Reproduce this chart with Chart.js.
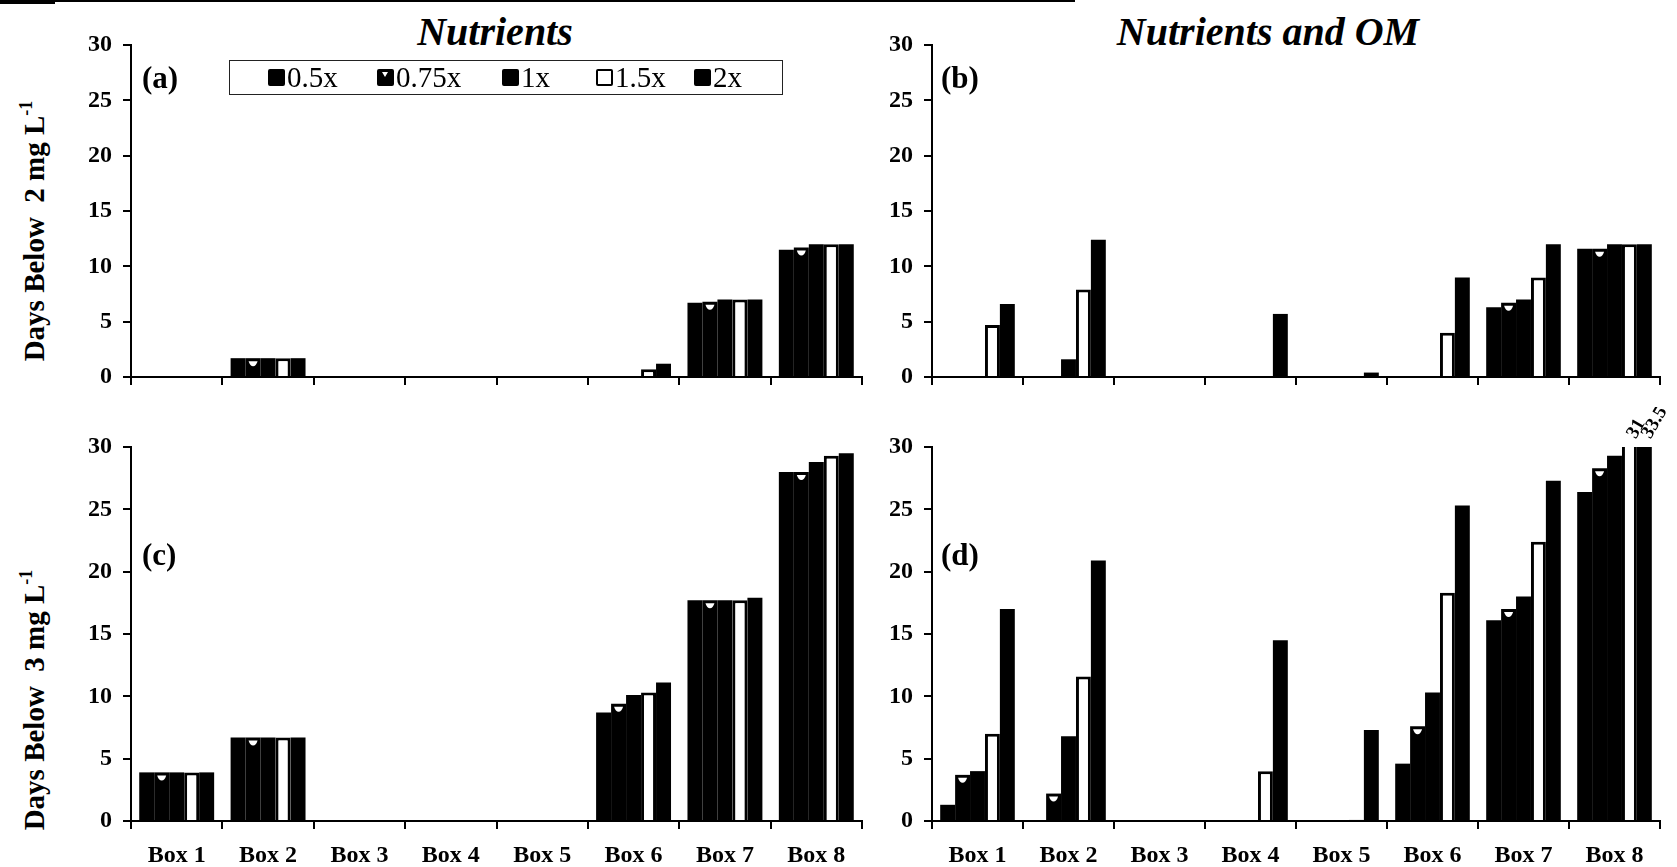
<!DOCTYPE html>
<html>
<head>
<meta charset="utf-8">
<script src="https://cdn.jsdelivr.net/npm/chart.js@4.4.0/dist/chart.umd.min.js"></script>
<style>
  html, body { margin: 0; padding: 0; background: #fff; }
  body { width: 1677px; height: 867px; position: relative; overflow: hidden;
         font-family: "Liberation Serif", "Times New Roman", serif; color: #000; }
  canvas { position: absolute; }
  .rule { position: absolute; background: #000; }
  .title { position: absolute; top: 8px; font-weight: bold; font-style: italic; font-size: 40px;
           transform: translateX(-50%); white-space: nowrap; }
  .ytitle { position: absolute; font-weight: bold; font-size: 29px; white-space: nowrap;
            transform: translate(-50%, -50%) rotate(-90deg); }
  .ytitle sup { font-size: 18px; vertical-align: 12px; }
  .tag { position: absolute; font-weight: bold; font-size: 31px; }
  #legend { position: absolute; left: 229px; top: 60px; width: 552px; height: 33px;
            border: 1px solid #222; background: #fff; }
  .item { position: absolute; top: 0; height: 33px; display: flex; align-items: center;
          font-size: 29px; }
  .swatch { width: 17px; height: 17px; margin-right: 2px; box-sizing: border-box;
            border: 2px solid #000; border-radius: 2px; position: relative; }
</style>
</head>
<body>
<div class="rule" style="left:0;top:0;width:1075px;height:2px"></div>
<div class="rule" style="left:0;top:0;width:55px;height:4px"></div>

<div class="title" style="left:495px">Nutrients</div>
<div class="title" style="left:1268px">Nutrients and OM</div>

<div class="ytitle" style="left:33px;top:231px">Days Below&nbsp;&nbsp;2 mg L<sup>-1</sup></div>
<div class="ytitle" style="left:33px;top:700px">Days Below&nbsp;&nbsp;3 mg L<sup>-1</sup></div>

<canvas id="pa" width="825" height="432" style="left:51px;top:5px"></canvas>
<canvas id="pb" width="822" height="432" style="left:852px;top:5px"></canvas>
<canvas id="pc" width="825" height="474" style="left:51px;top:407px"></canvas>
<canvas id="pd" width="822" height="474" style="left:852px;top:407px"></canvas>

<div class="tag" style="left:142px;top:60px">(a)</div>
<div class="tag" style="left:941px;top:60px">(b)</div>
<div class="tag" style="left:142px;top:537px">(c)</div>
<div class="tag" style="left:941px;top:537px">(d)</div>

<div id="legend"></div>

<script>
// Categories and treatment levels
const boxes = ['Box 1', 'Box 2', 'Box 3', 'Box 4', 'Box 5', 'Box 6', 'Box 7', 'Box 8'];
const doses = ['0.5x', '0.75x', '1x', '1.5x', '2x'];
const yTicks = [0, 5, 10, 15, 20, 25, 30];

// (a) Nutrients, days below 2 mg/L
const nut2_05  = [0, 1.7, 0, 0, 0, 0,   6.7, 11.5];
const nut2_075 = [0, 1.7, 0, 0, 0, 0,   6.8, 11.7];
const nut2_1   = [0, 1.7, 0, 0, 0, 0,   7.0, 12.0];
const nut2_15  = [0, 1.7, 0, 0, 0, 0.7, 7.0, 12.0];
const nut2_2   = [0, 1.7, 0, 0, 0, 1.2, 7.0, 12.0];

// (b) Nutrients and OM, days below 2 mg/L
const om2_05  = [0,   0,    0, 0,   0,   0,   6.3,  11.6];
const om2_075 = [0,   0,    0, 0,   0,   0,   6.7,  11.6];
const om2_1   = [0,   1.6,  0, 0,   0,   0,   7.0,  12.0];
const om2_15  = [4.7, 7.9,  0, 0,   0,   4.0, 9.0,  12.0];
const om2_2   = [6.6, 12.4, 0, 5.7, 0.4, 9.0, 12.0, 12.0];

// (c) Nutrients, days below 3 mg/L
const nut3_05  = [3.9, 6.7, 0, 0, 0, 8.7,  17.7, 28.0];
const nut3_075 = [3.9, 6.7, 0, 0, 0, 9.4,  17.7, 28.0];
const nut3_1   = [3.9, 6.7, 0, 0, 0, 10.1, 17.7, 28.8];
const nut3_15  = [3.9, 6.7, 0, 0, 0, 10.3, 17.7, 29.3];
const nut3_2   = [3.9, 6.7, 0, 0, 0, 11.1, 17.9, 29.5];

// (d) Nutrients and OM, days below 3 mg/L
const om3_05  = [1.3,  0,    0, 0,    0,   4.6,  16.1, 26.4];
const om3_075 = [3.7,  2.2,  0, 0,    0,   7.6,  17.0, 28.3];
const om3_1   = [4.0,  6.8,  0, 0,    0,   10.3, 18.0, 29.3];
const om3_15  = [7.0,  11.6, 0, 4.0,  0.1, 18.3, 22.4, 31];
const om3_2   = [17.0, 20.9, 0, 14.5, 7.3, 25.3, 27.3, 33.5];

const FONT = '"Liberation Serif", "Times New Roman", serif';
const fills = ['#000', '#000', '#000', '#fff', '#000'];
const borders = [0, 0, 0, 3, 0];

// White notch near the top of every 0.75x bar
const notchPlugin = {
  id: 'notch',
  afterDatasetsDraw(chart) {
    const meta = chart.getDatasetMeta(1);
    const ctx = chart.ctx;
    const top0 = chart.chartArea.top;
    meta.data.forEach(bar => {
      if (bar.base - bar.y < 12) return;
      const t = Math.max(bar.y, top0);
      ctx.save();
      ctx.fillStyle = '#fff';
      ctx.beginPath();
      ctx.moveTo(bar.x - 4.5, t + 3);
      ctx.lineTo(bar.x + 4.5, t + 3);
      ctx.quadraticCurveTo(bar.x + 3, t + 8, bar.x, t + 8);
      ctx.quadraticCurveTo(bar.x - 3, t + 8, bar.x - 4.5, t + 3);
      ctx.fill();
      ctx.restore();
    });
  }
};

// Values beyond the axis maximum are written above the clipped bar
const overflowPlugin = {
  id: 'overflowLabels',
  afterDatasetsDraw(chart) {
    const ctx = chart.ctx;
    const max = chart.scales.y.max;
    chart.data.datasets.forEach((ds, i) => {
      chart.getDatasetMeta(i).data.forEach((bar, j) => {
        const v = ds.data[j];
        if (v <= max) return;
        ctx.save();
        ctx.translate(bar.x + 2, chart.chartArea.top - 10);
        ctx.rotate(-Math.PI / 3);
        ctx.font = 'bold 19px ' + FONT;
        ctx.fillStyle = '#000';
        ctx.textAlign = 'left';
        ctx.textBaseline = 'middle';
        ctx.fillText(String(v), 0, 0);
        ctx.restore();
      });
    });
  }
};

function panel(id, series, showLabels) {
  new Chart(document.getElementById(id), {
    type: 'bar',
    data: {
      labels: boxes,
      datasets: series.map((d, i) => ({
        label: doses[i],
        data: d,
        backgroundColor: fills[i],
        borderColor: '#000',
        borderWidth: borders[i],
        barPercentage: 1.0,
        categoryPercentage: 0.82
      }))
    },
    options: {
      responsive: false,
      animation: false,
      devicePixelRatio: 1,
      layout: { padding: { top: 40, right: 14, left: 0, bottom: 0 } },
      plugins: { legend: { display: false }, tooltip: { enabled: false } },
      scales: {
        x: {
          grid: { display: true, drawOnChartArea: false, drawTicks: true, tickLength: 8,
                  color: '#000', lineWidth: 2, offset: true },
          border: { display: true, color: '#000', width: 2 },
          ticks: { display: showLabels, color: '#000', padding: 12,
                   font: { family: FONT, size: 24, weight: 'bold' } },
          afterFit(s) { s.height = 60; }
        },
        y: {
          min: 0, max: 30,
          afterBuildTicks(s) { s.ticks = yTicks.map(v => ({ value: v })); },
          grid: { display: true, drawOnChartArea: false, drawTicks: true, tickLength: 8,
                  color: '#000', lineWidth: 2 },
          border: { display: true, color: '#000', width: 2 },
          ticks: { color: '#000', padding: 11,
                   font: { family: FONT, size: 24, weight: 'bold' } },
          afterFit(s) { s.width = 80; }
        }
      }
    },
    plugins: [notchPlugin, overflowPlugin]
  });
}

panel('pa', [nut2_05, nut2_075, nut2_1, nut2_15, nut2_2], false);
panel('pb', [om2_05, om2_075, om2_1, om2_15, om2_2], false);
panel('pc', [nut3_05, nut3_075, nut3_1, nut3_15, nut3_2], true);
panel('pd', [om3_05, om3_075, om3_1, om3_15, om3_2], true);

// Legend built from the treatment levels
const legendX = [38, 147, 272, 366, 464];
const legend = document.getElementById('legend');
doses.forEach((d, i) => {
  const item = document.createElement('div');
  item.className = 'item';
  item.style.left = legendX[i] + 'px';
  const sw = document.createElement('div');
  sw.className = 'swatch';
  sw.style.background = fills[i];
  if (i === 1) {
    const n = document.createElement('div');
    n.style.cssText = 'position:absolute;left:3px;top:1px;width:0;height:0;' +
      'border-left:3.5px solid transparent;border-right:3.5px solid transparent;border-top:5px solid #fff;';
    sw.appendChild(n);
  }
  item.appendChild(sw);
  const t = document.createElement('span');
  t.textContent = d;
  item.appendChild(t);
  legend.appendChild(item);
});
</script>
</body>
</html>
